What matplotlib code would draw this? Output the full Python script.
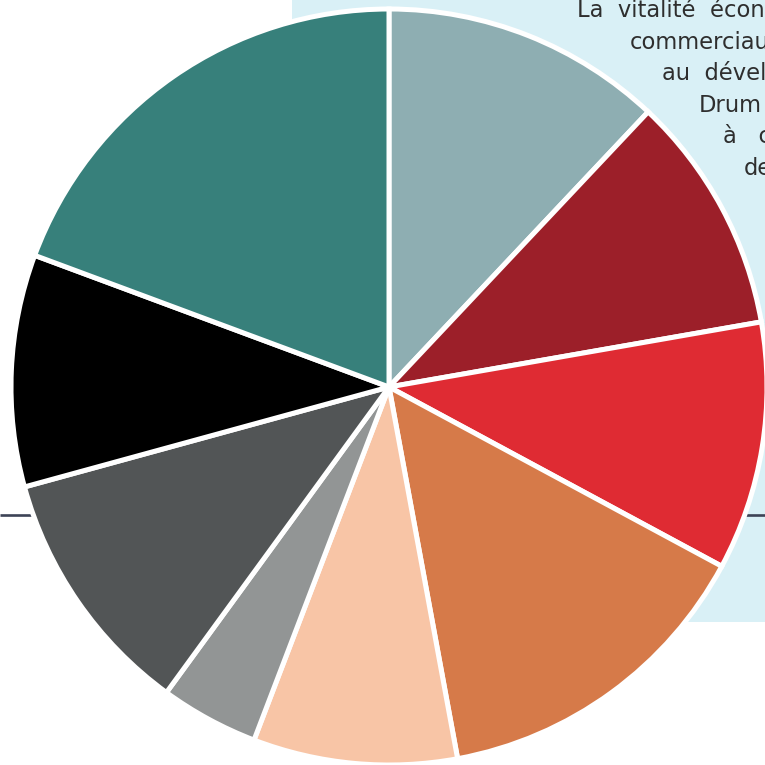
import matplotlib
matplotlib.use("Agg")
import matplotlib.pyplot as plt
from matplotlib.patches import Rectangle

# Data (shares, clockwise from 12 o'clock)
categories = ["Catégorie 1", "Catégorie 2", "Catégorie 3", "Catégorie 4", "Catégorie 5",
              "Catégorie 6", "Catégorie 7", "Catégorie 8", "Catégorie 9"]
values = [12.0, 10.2, 10.6, 14.2, 8.7, 4.2, 10.7, 9.9, 19.3]
colors = ["#8eaeb2", "#9c1f29", "#df2b33", "#d67a49", "#f8c5a6",
          "#929595", "#525556", "#000000", "#37807b"]

# visible (cropped) text fragments, as in the reference
text_lines = ["La  vitalité  écon",
              "commerciau",
              "au  dévelo",
              "Drum",
              "à   c",
              "de"]

W = H = 765
fig = plt.figure(figsize=(7.65, 7.65), dpi=100)
ax = fig.add_axes([0, 0, 1, 1])
ax.set_xlim(0, W)
ax.set_ylim(0, H)
ax.set_aspect("equal")
ax.axis("off")

# light blue panel
ax.add_patch(Rectangle((292, H - 622), W - 292, 622, facecolor="#d9f0f6",
                       edgecolor="none", zorder=0))
# horizontal rule
ax.plot([0, W], [H - 515, H - 515], color="#3d4356", lw=1.9, zorder=1,
        solid_capstyle="butt")

# text (right edge of the figure crops it, as in the reference)
xs = [577, 630, 662, 699, 723, 744]
for i, (t, x) in enumerate(zip(text_lines, xs)):
    ax.text(x, H - (17 + 31.6 * i), t, fontsize=16.3, family=["DejaVu Sans"],
            color="#2e2e2e", ha="left", va="baseline", zorder=2)

ax.pie(values, colors=colors, startangle=90, counterclock=False,
       center=(389, H - 387), radius=378, frame=True,
       wedgeprops=dict(edgecolor="white", linewidth=3.6, zorder=3))
ax.set_xlim(0, W)
ax.set_ylim(0, H)
ax.axis("off")

fig.savefig("out.png", dpi=100)
